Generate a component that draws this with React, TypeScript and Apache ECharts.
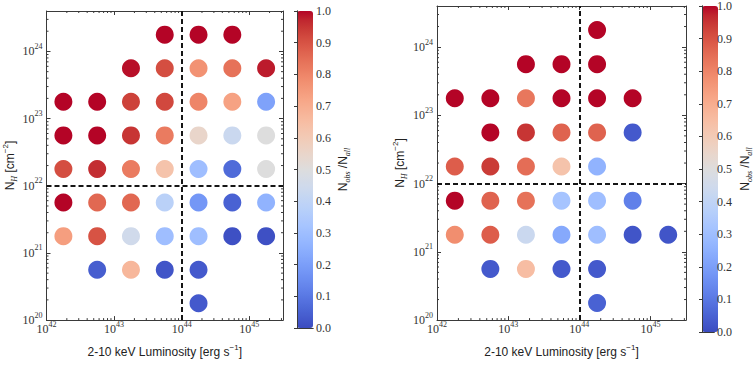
import React, { useEffect, useRef } from "react";
import * as echarts from "echarts";

// log10 of bin centres
const lumBins = [42.25, 42.75, 43.25, 43.75, 44.25, 44.75, 45.25];
const nhBins = [24.25, 23.75, 23.25, 22.75, 22.25, 21.75, 21.25, 20.75, 20.25];

// N_obs / N_all, rows follow nhBins, columns follow lumBins
const leftFractions: (number | null)[][] = [
  [null, null, null, 1.0, 1.0, 1.0, null],
  [null, null, 0.99, 0.91, 0.77, 0.84, 0.98],
  [1.0, 1.0, 0.93, 0.92, 0.8, 0.73, 0.21],
  [1.0, 1.0, 0.95, 0.82, 0.55, 0.43, 0.5],
  [0.91, 0.96, 0.82, 0.63, 0.3, 0.07, 0.5],
  [1.0, 0.86, 0.86, 0.38, 0.18, 0.05, 0.26],
  [0.74, 0.9, 0.45, 0.3, 0.3, 0.01, 0.01],
  [null, 0.04, 0.67, 0.02, 0.03, null, null],
  [null, null, null, null, 0.03, null, null],
];
const rightFractions: (number | null)[][] = [
  [null, null, null, null, 1.0, null, null],
  [null, null, 1.0, 1.0, 1.0, null, null],
  [1.0, 1.0, 0.83, 1.0, 1.0, 1.0, null],
  [null, 1.0, 0.95, 0.87, 0.87, 0.03, null],
  [0.88, 0.94, 0.85, 0.63, 0.26, null, null],
  [1.0, 0.87, 0.84, 0.32, 0.3, 0.12, null],
  [0.78, 0.88, 0.43, 0.23, 0.3, 0.02, 0.02],
  [null, 0.03, 0.65, 0.03, 0.03, null, null],
  [null, null, null, null, 0.05, null, null],
];

const lumSplit = 44;
const nhSplit = 22;
const xRange = [42, 45.5];
const yRange = [20, 24.602];

const coolwarm = [
  "#3b4cc0", "#445acc", "#4d68d7", "#5775e1", "#6282ea", "#6c8ef1", "#779af7", "#82a5fb",
  "#8db0fe", "#98b9ff", "#a3c2ff", "#aec9fd", "#b8d0f9", "#c2d5f4", "#ccd9ee", "#d5dbe6",
  "#dddddd", "#e5d8d1", "#ecd3c5", "#f1ccb8", "#f5c4ad", "#f7bba0", "#f7b194", "#f7a687",
  "#f49a7b", "#f18d6f", "#ec7f63", "#e57058", "#de604d", "#d55042", "#cb3e38", "#c0282f",
  "#b40426",
];

const serif = "Liberation Serif";
const sans = "Liberation Sans";
const axisColor = "#3a3a3a";

function toPoints(fr: (number | null)[][]) {
  const pts: number[][] = [];
  fr.forEach((row, i) =>
    row.forEach((v, j) => {
      if (v !== null) pts.push([lumBins[j], nhBins[i], v]);
    })
  );
  return pts;
}

function minorTicks(lo: number, hi: number) {
  const out: number[] = [];
  for (let d = Math.floor(lo); d <= Math.ceil(hi); d++) {
    for (let k = 2; k <= 9; k++) {
      const v = d + Math.log10(k);
      if (v > lo && v < hi) out.push(v);
    }
  }
  return out;
}

const tickRich = {
  b: { fontFamily: serif, fontSize: 12, color: "#333", lineHeight: 12 },
  s: { fontFamily: serif, fontSize: 8, color: "#333", lineHeight: 8, padding: [0, 0, 10, 0] },
};
const nameRich = {
  t: { fontFamily: sans, fontSize: 12, color: "#222", lineHeight: 12 },
  sup: { fontFamily: sans, fontSize: 8, color: "#222", lineHeight: 8, padding: [0, 0, 9, 0] },
  sub: { fontFamily: serif, fontStyle: "italic", fontSize: 8, color: "#222", lineHeight: 8, padding: [9, 0, 0, 0] },
};

const powLabel = (v: number) => (Math.abs(v - Math.round(v)) < 1e-6 ? `{b|10}{s|${Math.round(v)}}` : "");

export default function App() {
  const ref = useRef<HTMLDivElement>(null);
  useEffect(() => {
    if (!ref.current) return;
    const chart = echarts.init(ref.current, undefined, { renderer: "svg" });

    const panels = [
      { left: 40, top: 11, width: 243, height: 317, data: toPoints(leftFractions), cb: 297, yGap: 31, xGap: 15, cbGap: 24 },
      { left: 437, top: 6, width: 249, height: 326, data: toPoints(rightFractions), cb: 702, yGap: 31, xGap: 20, cbGap: 22 },
    ];

    const grid: any[] = [];
    const xAxis: any[] = [];
    const yAxis: any[] = [];
    const series: any[] = [];
    const visualMap: any[] = [];

    const xMinor = minorTicks(xRange[0], xRange[1]);
    const yMinor = minorTicks(yRange[0], yRange[1]);

    panels.forEach((p) => {
      const g = grid.length;
      grid.push({ left: p.left, top: p.top, width: p.width, height: p.height, containLabel: false });
      const xi = xAxis.length;
      const common = {
        gridIndex: g,
        type: "value",
        min: xRange[0],
        max: xRange[1],
        interval: 1,
        splitLine: { show: false },
        axisLine: { show: true, lineStyle: { color: axisColor, width: 1 } },
        axisTick: { show: true, inside: true, length: 4, lineStyle: { color: axisColor } },
      };
      xAxis.push({
        ...common,
        position: "bottom",
        axisLabel: { formatter: powLabel, rich: tickRich, margin: 3 },
        name: "2-10 keV Luminosity [erg s{sup|−1}]",
        nameLocation: "middle",
        nameGap: p.xGap,
        nameTextStyle: { rich: nameRich, fontFamily: sans, fontSize: 12, color: "#222" },
      });
      xAxis.push({ ...common, position: "top", axisLabel: { show: false } });
      const yi = yAxis.length;
      const ycommon = {
        gridIndex: g,
        type: "value",
        min: yRange[0],
        max: yRange[1],
        interval: 1,
        splitLine: { show: false },
        axisLine: { show: true, lineStyle: { color: axisColor, width: 1 } },
        axisTick: { show: true, inside: true, length: 4, lineStyle: { color: axisColor } },
      };
      yAxis.push({
        ...ycommon,
        position: "left",
        axisLabel: { formatter: powLabel, rich: tickRich, margin: 4 },
        name: "{t|N}{sub|H}{t| [cm}{sup|−2}{t|]}",
        nameLocation: "middle",
        nameGap: p.yGap,
        nameTextStyle: { rich: nameRich, fontFamily: sans, fontSize: 12, color: "#222" },
      });
      yAxis.push({ ...ycommon, position: "right", axisLabel: { show: false } });

      const si = series.length;
      series.push({
        type: "scatter",
        xAxisIndex: xi,
        yAxisIndex: yi,
        data: p.data,
        symbol: "circle",
        symbolSize: 18,
        itemStyle: { opacity: 1 },
        z: 3,
        markLine: {
          silent: true,
          symbol: "none",
          label: { show: false },
          lineStyle: { type: [5, 3], color: "#151515", width: 2 },
          data: [{ xAxis: lumSplit }, { yAxis: nhSplit }],
        },
      });
      // minor ticks (log-spaced 2..9) on all four sides
      series.push({
        type: "custom",
        xAxisIndex: xi,
        yAxisIndex: yi,
        clip: false,
        silent: true,
        data: xMinor.map((v) => [v, yRange[0]]),
        renderItem: (params: any, api: any) => {
          const v = api.value(0);
          const b = api.coord([v, yRange[0]]);
          const t = api.coord([v, yRange[1]]);
          const st = { stroke: axisColor, lineWidth: 1 };
          return {
            type: "group",
            children: [
              { type: "line", shape: { x1: b[0], y1: b[1], x2: b[0], y2: b[1] - 2 }, style: st },
              { type: "line", shape: { x1: t[0], y1: t[1], x2: t[0], y2: t[1] + 2 }, style: st },
            ],
          };
        },
      });
      series.push({
        type: "custom",
        xAxisIndex: xi,
        yAxisIndex: yi,
        clip: false,
        silent: true,
        data: yMinor.map((v) => [xRange[0], v]),
        renderItem: (params: any, api: any) => {
          const v = api.value(1);
          const l = api.coord([xRange[0], v]);
          const r = api.coord([xRange[1], v]);
          const st = { stroke: axisColor, lineWidth: 1 };
          return {
            type: "group",
            children: [
              { type: "line", shape: { x1: l[0], y1: l[1], x2: l[0] + 2, y2: l[1] }, style: st },
              { type: "line", shape: { x1: r[0], y1: r[1], x2: r[0] - 2, y2: r[1] }, style: st },
            ],
          };
        },
      });

      visualMap.push({
        type: "continuous",
        min: 0,
        max: 1,
        dimension: 2,
        seriesIndex: si,
        calculable: false,
        show: true,
        left: p.cb,
        top: p.top,
        itemWidth: 16,
        itemHeight: p.height,
        padding: 0,
        text: null,
        inRange: { color: coolwarm },
      });

      // colour bar frame + tick labels
      const cg = grid.length;
      grid.push({ left: p.cb, top: p.top, width: 16, height: p.height, containLabel: false });
      const frameLine = { show: true, lineStyle: { color: axisColor, width: 1 } };
      xAxis.push({ gridIndex: cg, type: "value", min: 0, max: 1, position: "bottom", z: 10, axisLine: frameLine, axisTick: { show: false }, axisLabel: { show: false }, splitLine: { show: false } });
      xAxis.push({ gridIndex: cg, type: "value", min: 0, max: 1, position: "top", z: 10, axisLine: frameLine, axisTick: { show: false }, axisLabel: { show: false }, splitLine: { show: false } });
      yAxis.push({ gridIndex: cg, type: "value", min: 0, max: 1, position: "left", z: 10, axisLine: frameLine, axisTick: { show: false }, axisLabel: { show: false }, splitLine: { show: false } });
      yAxis.push({
        gridIndex: cg,
        type: "value",
        min: 0,
        max: 1,
        interval: 0.1,
        position: "right",
        z: 10,
        axisLine: frameLine,
        axisTick: { show: true, inside: true, length: 3, lineStyle: { color: axisColor } },
        axisLabel: { formatter: (v: number) => v.toFixed(1), fontFamily: serif, fontSize: 12, color: "#333", margin: 3 },
        splitLine: { show: false },
        name: "{t|N}{sub|obs}{t| /N}{sub|all}",
        nameLocation: "middle",
        nameRotate: 90,
        nameGap: p.cbGap,
        nameTextStyle: { rich: nameRich, fontFamily: sans, fontSize: 12, color: "#222" },
      });
    });

    chart.setOption({
      animation: false,
      backgroundColor: "#ffffff",
      grid,
      xAxis,
      yAxis,
      visualMap,
      series,
    });
    return () => chart.dispose();
  }, []);

  return <div ref={ref} style={{ position: "fixed", left: 0, top: 0, width: 754, height: 365 }} />;
}
